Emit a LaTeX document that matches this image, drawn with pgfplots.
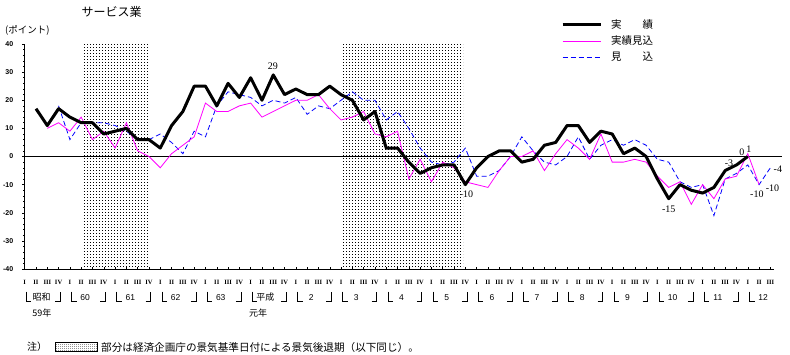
\documentclass[border=0pt]{standalone}
\usepackage{fontspec}
\setmainfont{Liberation Sans}
\newfontfamily\jp{Noto Sans CJK JP}
\newfontfamily\srf{Liberation Serif}
\usepackage{pgfplots}
\usepackage{pgfplotstable}
\pgfplotsset{compat=1.18}
\usetikzlibrary{patterns}
\definecolor{mag}{RGB}{255,0,255}
\definecolor{blu}{RGB}{0,0,255}
\pgfdeclarepatternformonly{sparsedots}{\pgfpointorigin}{\pgfpoint{3.4pt}{3.4pt}}{\pgfpoint{3.4pt}{3.4pt}}%
{\pgfpathrectangle{\pgfpointorigin}{\pgfpoint{0.95pt}{0.95pt}}\pgfusepath{fill}}
\pgfdeclarepatternformonly{densedots}{\pgfpointorigin}{\pgfpoint{2pt}{2pt}}{\pgfpoint{2pt}{2pt}}%
{\pgfpathrectangle{\pgfpointorigin}{\pgfpoint{0.8pt}{0.8pt}}\pgfusepath{fill}}

% quarter index: 0 = S59 I ... 66 = H12 III
\pgfplotstableread{
i v
1 17
2 11
3 17
4 14
5 12
6 12
7 8
8 9
9 10
10 6
11 6
12 3
13 11
14 16
15 25
16 25
17 18
18 26
19 21
20 28
21 20
22 29
23 22
24 24
25 22
26 22
27 25
28 22
29 20
30 13
31 16
32 3
33 3
34 -2
35 -6
36 -4
37 -3
38 -3
39 -10
40 -4
41 0
42 2
43 2
44 -2
45 -1
46 4
47 5
48 11
49 11
50 5
51 9
52 8
53 1
54 3
55 0
56 -8
57 -15
58 -10
59 -12
60 -13
61 -11
62 -5
63 -3
64 0
}\jisseki

\pgfplotstableread{
i v
2 10
3 12
4 9
5 14
6 6
7 9
8 3
9 12
10 2
11 0
12 -4
13 1
14 4
15 7
16 19
17 16
18 16
19 18
20 19
21 14
22 16
23 18
24 20
25 20
26 22
27 17
28 13
29 14
30 16
31 8
32 7
33 9
34 -8
35 -1
36 -9
37 -2
38 -4
39 -9
40 -10
41 -11
42 -5
43 0
44 0
45 2
46 -5
47 1
48 6
49 3
50 -1
51 8
52 -2
53 -2
54 -1
55 -2
56 -7
57 -11
58 -9
59 -17
60 -10
61 -15
62 -8
63 -7
64 1
65 -10
}\jissekimikomi

\pgfplotstableread{
i v
3 18
4 6
5 12
6 12
7 12
8 11
9 9
10 6
11 6
12 8
13 5
14 1
15 9
16 7
17 18
18 23
19 22
20 21
21 18
22 20
23 19
24 21
25 15
26 18
27 17
28 20
29 23
30 20
31 20
32 13
33 16
34 10
35 3
36 -2
37 -3
38 -2
39 3
40 -7
41 -7
42 -5
43 0
44 7
45 2
46 -2
47 -3
48 0
49 7
50 -1
51 4
52 6
53 4
54 6
55 4
56 -1
57 -2
58 -9
59 -11
60 -10
61 -21
62 -8
63 -6
64 -3
65 -10
66 -4
}\mikomi

\begin{document}
\begin{tikzpicture}
\path[use as bounding box] (0pt,0pt) rectangle (790pt,354pt);
\begin{axis}[
  at={(24.7pt,85pt)}, anchor=south west,
  scale only axis, width=757pt, height=225pt,
  xmin=0, xmax=67, ymin=-40, ymax=40,
  clip=false,
  axis x line*=bottom, axis y line*=left,
  x axis line style={draw=none},
  y axis line style={line width=0.8pt},
  tick align=outside,
  major tick length=2.5pt, minor tick length=1.5pt,
  xtick={0,...,66},
  xticklabels={I,II,III,IV,I,II,III,IV,I,II,III,IV,I,II,III,IV,I,II,III,IV,I,II,III,IV,I,II,III,IV,I,II,III,IV,I,II,III,IV,I,II,III,IV,I,II,III,IV,I,II,III,IV,I,II,III,IV,I,II,III,IV,I,II,III,IV,I,II,III,IV,I,II,III},
  xtick style={draw=black, line width=0.5pt, yshift=2.5pt},
  xticklabel style={font=\srf\bfseries\fontsize{6.5}{7}\selectfont, anchor=center, yshift=-10.5pt},
  ytick={-40,-30,...,40},
  yticklabels={-40,-30,-20,-10,0,10,20,30,40},
  minor y tick num=4,
  ytick style={draw=black, line width=0.5pt},
  yticklabel style={font=\bfseries\fontsize{7}{7}\selectfont, xshift=-5.5pt},
  legend style={at={(0.7085,1.108)}, anchor=north west, draw=none, fill=none,
    inner sep=0pt, outer sep=0pt, row sep=6pt,
    font=\jp\fontsize{10.5}{10.5}\selectfont,
    nodes={inner sep=0pt, anchor=west},
    /tikz/every odd column/.append style={column sep=9pt}},
  legend image code/.code={\draw[#1] (0pt,0pt) -- (38pt,0pt);},
  legend cell align=left,
  reverse legend,
]
% recession periods
\addplot[draw=none, pattern=sparsedots, forget plot] coordinates {(5.15,-40) (5.15,40) (11,40) (11,-40)} -- cycle;
\addplot[draw=none, pattern=sparsedots, forget plot] coordinates {(28.1,-40) (28.1,40) (38.8,40) (38.8,-40)} -- cycle;
% zero line and bottom line
\draw[line width=0.8pt] (axis cs:0,0) -- (axis cs:67,0);
\draw[line width=0.8pt] (axis cs:0,-40) -- (axis cs:66.3,-40);

\addplot[draw=blu, color=blu, line width=0.8pt, dash pattern=on 5pt off 3pt] table[x=i,y=v] {\mikomi};
\addplot[draw=mag, color=mag, line width=0.8pt] table[x=i,y=v] {\jissekimikomi};
\addplot[black, line width=3pt, line join=round] table[x=i,y=v] {\jisseki};
\legend{見　　込,実績見込,実　　績}

% data labels
\begin{scope}[every node/.style={font=\srf\fontsize{10}{10}\selectfont, inner sep=0pt}]
\node at (axis cs:21.97,32) {29};
\node at (axis cs:39.1,-13.3) {-10};
\node at (axis cs:57.0,-18.7) {-15};
\node at (axis cs:62.33,-2.5) {-3};
\node at (axis cs:63.48,1.4) {0};
\node at (axis cs:64.1,2.5) {1};
\node at (axis cs:64.8,-13.3) {-10};
\node at (axis cs:66.18,-11.4) {-10};
\node at (axis cs:66.66,-4.45) {-4};
\end{scope}

% year brackets
\pgfplotsinvokeforeach{0,...,15}{
  \draw[line width=0.7pt] (axis cs:{4*#1+0.15},-48.0) |- (axis cs:{4*#1+0.6},-51.6);
  \draw[line width=0.7pt] (axis cs:{4*#1+2.7},-51.6) -| (axis cs:{4*#1+3.15},-48.0);
}
\draw[line width=0.7pt] (axis cs:64.15,-48.0) |- (axis cs:64.6,-51.6);
\node[font=\jp\fontsize{9}{9}\selectfont, inner sep=0pt] at (axis cs:1.5,-49.9) {昭和};
\node[font=\jp\fontsize{9}{9}\selectfont, inner sep=0pt] at (axis cs:21.3,-49.9) {平成};
\pgfplotsinvokeforeach{1,...,4}{
  \node[font=\fontsize{8.5}{8.5}\selectfont, inner sep=0pt] at (axis cs:{4*#1+1.35},-50.2) {\pgfmathtruncatemacro\yy{#1+59}\yy};
}
\pgfplotsinvokeforeach{6,...,16}{
  \node[font=\fontsize{8.5}{8.5}\selectfont, inner sep=0pt] at (axis cs:{4*#1+1.35},-50.2) {\pgfmathtruncatemacro\yy{#1-4}\yy};
}
\node[font=\jp\fontsize{9}{9}\selectfont, inner sep=0pt] at (axis cs:1.53,-55.5) {59年};
\node[font=\jp\fontsize{9}{9}\selectfont, inner sep=0pt] at (axis cs:20.65,-55.5) {元年};
\end{axis}

% title and unit
\node[font=\jp\fontsize{12}{12}\selectfont, inner sep=0pt] at (111.5pt,342pt) {サービス業};
\node[font=\jp\fontsize{9.5}{9.5}\selectfont, inner sep=0pt, anchor=west] at (5pt,323.5pt) {(ポイント)};

% note
\node[font=\jp\fontsize{10}{10}\selectfont, inner sep=0pt, anchor=west] at (27pt,7pt) {注）};
\draw[line width=0.5pt, pattern=densedots] (55pt,3pt) rectangle (97pt,12pt);
\node[font=\jp\fontsize{10.6}{10.6}\selectfont, inner sep=0pt, anchor=west] at (101pt,7pt) {部分は経済企画庁の景気基準日付による景気後退期（以下同じ）。};
\end{tikzpicture}
\end{document}
